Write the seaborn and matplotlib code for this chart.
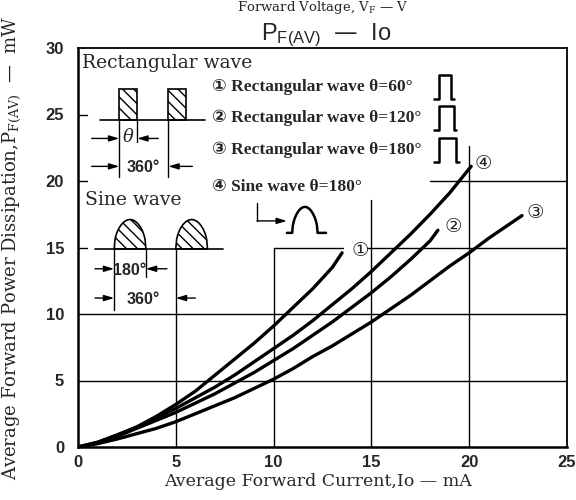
import numpy as np
import pandas as pd
import matplotlib
matplotlib.use("Agg")
import matplotlib.pyplot as plt
import seaborn as sns
from matplotlib.patches import Rectangle, Polygon

# values (Io in mA, PF(AV) in mW)
io_rect60 = [0, 1, 2, 3, 4, 5, 6, 7, 8, 9, 10, 11, 12, 13, 13.5]
pf_rect60 = [0, 0.35, 0.9, 1.5, 2.3, 3.2, 4.2, 5.4, 6.6, 7.8, 9.1, 10.5, 11.9, 13.5, 14.6]

io_rect120 = [0, 1, 2, 3, 4, 5, 6, 7, 8, 9, 10, 11, 12, 13, 14, 15, 16, 17, 18, 18.4]
pf_rect120 = [0, 0.3, 0.8, 1.4, 2.0, 2.6, 3.3, 4.0, 4.8, 5.6, 6.5, 7.4, 8.4, 9.4, 10.5, 11.6, 12.8, 14.1, 15.5, 16.3]

io_rect180 = [0, 1, 2, 3, 4, 5, 6, 7, 8, 9, 10, 11, 12, 13, 14, 15, 16, 17, 18, 19, 20, 21, 22, 22.7]
pf_rect180 = [0, 0.25, 0.6, 1.0, 1.4, 1.9, 2.5, 3.1, 3.7, 4.4, 5.1, 5.9, 6.8, 7.6, 8.5, 9.4, 10.4, 11.4, 12.5, 13.6, 14.6, 15.7, 16.7, 17.4]

io_sine180 = [0, 1, 2, 3, 4, 5, 6, 7, 8, 9, 10, 11, 12, 13, 14, 15, 16, 17, 18, 19, 20.1]
pf_sine180 = [0, 0.35, 0.9, 1.5, 2.2, 2.9, 3.7, 4.5, 5.4, 6.4, 7.4, 8.4, 9.5, 10.7, 11.9, 13.2, 14.6, 16.0, 17.5, 19.1, 21.1]

curve_marks = ["①", "②", "③", "④"]
legend_labels = ["① Rectangular wave θ=60°", "② Rectangular wave θ=120°",
                 "③ Rectangular wave θ=180°", "④ Sine wave θ=180°"]
x_ticks = [0, 5, 10, 15, 20, 25]
y_ticks = [0, 5, 10, 15, 20, 25, 30]

sns.set_style("white")
plt.rcParams["font.family"] = ["DejaVu Serif", "DejaVu Sans"]
plt.rcParams["hatch.linewidth"] = 1.0

fig = plt.figure(figsize=(5.76, 5.0), dpi=100)
ax = fig.add_axes([78 / 576, 53 / 500, 489 / 576, 399 / 500])

LW = 1.0
K = "black"

# partial grid, as in the datasheet
grid_h = [(5, 0, 25), (10, 0, 25), (15, 0, 0.45), (15, 10, 13.55), (15, 14.8, 25),
          (20, 0, 0.45), (20, 18.0, 25), (25, 0, 0.45)]
grid_v = [(5, 0, 14.9), (10, 0, 15), (15, 0, 18.6), (20, 0, 22.6)]
for y, a, b in grid_h:
    ax.plot([a, b], [y, y], color=K, lw=LW)
for x, a, b in grid_v:
    ax.plot([x, x], [a, b], color=K, lw=LW)

# curves
curves = [(io_rect60, pf_rect60), (io_rect120, pf_rect120),
          (io_rect180, pf_rect180), (io_sine180, pf_sine180)]
for io, pf in curves:
    df = pd.DataFrame({"io": io, "pf": pf})
    sns.lineplot(data=df, x="io", y="pf", ax=ax, color=K, lw=2.4, sort=False)

# circled numbers at the curve ends
label_pos = [(14.45, 14.8), (19.2, 16.6), (23.4, 17.6), (20.7, 21.35)]
for m, (x, y) in zip(curve_marks, label_pos):
    ax.text(x, y, m, fontsize=14, family="DejaVu Sans", ha="center", va="center")

def arrow(x0, x1, y):
    ax.annotate("", xy=(x1, y), xytext=(x0, y),
                arrowprops=dict(arrowstyle="-|>,head_width=0.18,head_length=0.6",
                                color=K, lw=1.0, shrinkA=0, shrinkB=0))

# rectangular wave sketch
ax.text(0.2, 28.5, "Rectangular wave", fontsize=13.5, va="baseline")
ax.plot([1.12, 6.5], [24.6, 24.6], color=K, lw=1.2)
for x0 in (2.11, 4.62):
    ax.add_patch(Rectangle((x0, 24.6), 0.92, 2.3, fill=False, hatch="\\\\\\",
                           edgecolor=K, lw=1.2))
ax.plot([2.11, 2.11], [24.6, 20.3], color=K, lw=1.0)
ax.plot([3.03, 3.03], [24.6, 22.9], color=K, lw=1.0)
ax.plot([4.62, 4.62], [24.6, 20.3], color=K, lw=1.0)
arrow(0.7, 2.11, 23.2)
arrow(4.1, 3.03, 23.2)
ax.text(2.57, 23.3, "θ", fontsize=13, style="italic", ha="center", va="center")
arrow(0.7, 2.11, 21.1)
arrow(5.85, 4.62, 21.1)
ax.text(3.35, 21.0, "360°", fontsize=11.5, family="Liberation Sans", weight="bold",
        ha="center", va="center")

# sine wave sketch
ax.text(0.36, 18.2, "Sine wave", fontsize=13.5, va="baseline")
ax.plot([0.87, 7.4], [14.9, 14.9], color=K, lw=1.2)
for x0 in (1.85, 5.0):
    t = np.linspace(0, np.pi, 40)
    xs = x0 + 1.62 * t / np.pi
    ys = 14.9 + 2.2 * np.sin(t) ** 0.45
    ax.add_patch(Polygon(np.column_stack([xs, ys]), closed=True, fill=False,
                         hatch="\\\\\\", edgecolor=K, lw=1.2))
ax.plot([1.85, 1.85], [14.9, 10.3], color=K, lw=1.0)
ax.plot([3.47, 3.47], [14.9, 12.8], color=K, lw=1.0)
arrow(0.87, 1.85, 13.4)
arrow(4.55, 3.47, 13.4)
ax.text(2.66, 13.3, "180°", fontsize=11.5, family="Liberation Sans", weight="bold",
        ha="center", va="center")
arrow(0.87, 1.85, 11.2)
arrow(6.0, 5.0, 11.2)
ax.text(3.35, 11.1, "360°", fontsize=11.5, family="Liberation Sans", weight="bold",
        ha="center", va="center")

# legend block
row_y = [27.07, 24.74, 22.33, 19.55]
for lab, y in zip(legend_labels, row_y):
    ax.text(6.85, y, lab, fontsize=12.5, family=["Liberation Serif", "DejaVu Sans"],
            weight="bold", va="center")
pulse_w = [0.6, 0.75, 0.87]
for w, y in zip(pulse_w, row_y[:3]):
    yb, yt = y - 17 / 13.3 + 0.35, y + 7 / 13.3 + 0.35
    x1 = 18.45
    ax.plot([18.2, x1, x1, x1 + w, x1 + w, x1 + w + 0.15],
            [yb, yb, yt, yt, yb, yb], color=K, lw=1.8)
ax.annotate("", xy=(10.68, 17.0), xytext=(9.15, 17.0),
            arrowprops=dict(arrowstyle="-|>,head_width=0.18,head_length=0.6",
                            color=K, lw=1.0, shrinkA=0, shrinkB=0))
ax.plot([9.15, 9.15], [18.35, 17.0], color=K, lw=1.0)
t = np.linspace(0, np.pi, 40)
bx = np.concatenate([[10.68], 10.95 + 1.3 * t / np.pi, [12.68]])
by = np.concatenate([[16.1], 16.1 + 1.95 * np.sin(t) ** 0.5, [16.1]])
ax.plot(bx, by, color=K, lw=1.8)

# axes
ax.set_xlim(0, 25)
ax.set_ylim(0, 30)
ax.set_xticks(x_ticks)
ax.set_yticks(y_ticks)
ax.tick_params(length=0, labelsize=12)
ax.tick_params(axis="y", pad=10)
ax.tick_params(axis="x", pad=6)
for lbl in ax.get_xticklabels() + ax.get_yticklabels():
    lbl.set_family("Liberation Sans")
    lbl.set_weight("bold")
for s in ax.spines.values():
    s.set_color(K)
    s.set_linewidth(1.3)
ax.spines["left"].set_linewidth(1.8)
ax.spines["bottom"].set_linewidth(1.8)

ax.set_xlabel("Average Forward Current,Io — mA", fontsize=12.5)
ax.set_ylabel(r"Average Forward Power Dissipation,P$_\mathregular{F(AV)}$  —  mW", fontsize=13)
ax.xaxis.set_label_coords(0.49, -0.065)
ax.yaxis.set_label_coords(-0.112, 0.5)

fig.text(0.566, 0.93, r"$\mathregular{P_{F(AV)}}$  —  Io", fontsize=17,
         family="Liberation Sans", ha="center", va="center")
fig.text(0.561, 0.978, r"Forward Voltage, V$_\mathregular{F}$ — V", fontsize=9.5,
         ha="center", va="baseline")

fig.savefig("out.png", dpi=100)
